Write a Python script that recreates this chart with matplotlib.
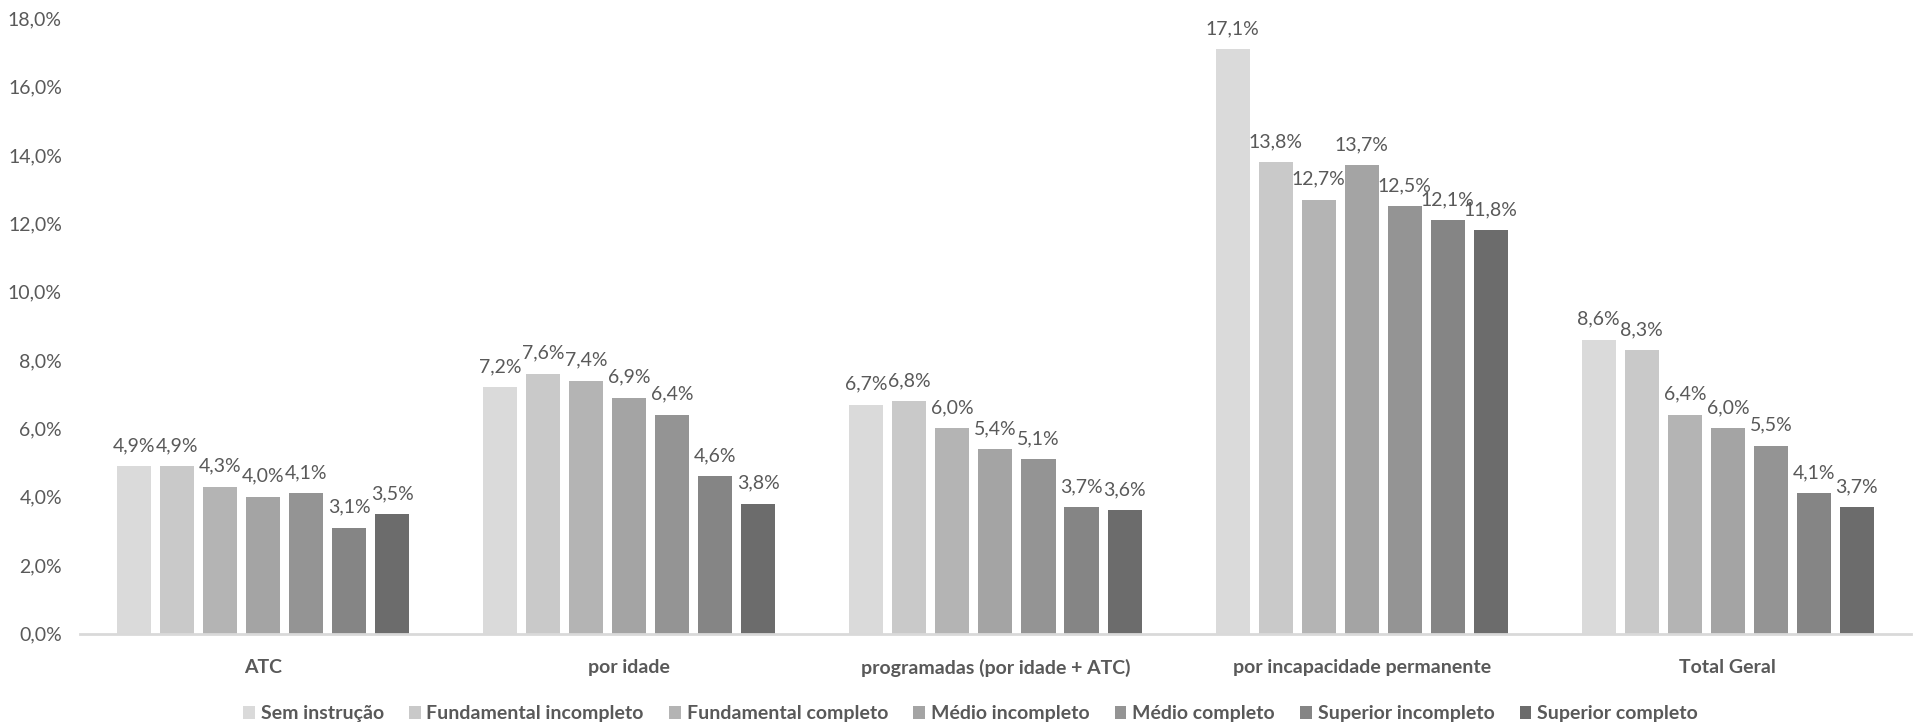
import matplotlib
matplotlib.use("Agg")
import matplotlib.pyplot as plt
import numpy as np

plt.rcParams['font.family'] = ['Lato', 'DejaVu Sans']

categories = ["ATC",
              "por idade",
              "programadas (por idade + ATC)",
              "por incapacidade permanente",
              "Total Geral"]

levels = ["Sem instrução",
          "Fundamental incompleto",
          "Fundamental completo",
          "Médio incompleto",
          "Médio completo",
          "Superior incompleto",
          "Superior completo"]

# percentage per category, one list per education level
sem_instrucao = [4.9, 7.2, 6.7, 17.1, 8.6]
fund_incompleto = [4.9, 7.6, 6.8, 13.8, 8.3]
fund_completo = [4.3, 7.4, 6.0, 12.7, 6.4]
medio_incompleto = [4.0, 6.9, 5.4, 13.7, 6.0]
medio_completo = [4.1, 6.4, 5.1, 12.5, 5.5]
sup_incompleto = [3.1, 4.6, 3.7, 12.1, 4.1]
sup_completo = [3.5, 3.8, 3.6, 11.8, 3.7]

series = [sem_instrucao, fund_incompleto, fund_completo, medio_incompleto,
          medio_completo, sup_incompleto, sup_completo]

colors = ["#dadada", "#c9c9c9", "#b4b4b4", "#a4a4a4", "#949494", "#858585", "#6c6c6c"]

text_color = "#595959"

fig = plt.figure(figsize=(19.14, 7.27), dpi=100)
ax = fig.add_axes([0.0418, 0.1286, 0.9566, 0.846])

x = np.arange(len(categories))
step = 0.1175
width = 0.093

for j, (vals, color, name) in enumerate(zip(series, colors, levels)):
    pos = x + (j - 3) * step
    ax.bar(pos, vals, width=width, color=color, label=name, zorder=2)
    for px, v in zip(pos, vals):
        ax.text(px, v + 0.35, f"{v:.1f}%".replace('.', ','), ha='center', va='bottom',
                fontsize=14, color=text_color)

ax.set_xlim(-0.5, 4.5)
ax.set_ylim(0, 18)
yt = np.arange(0, 18.1, 2)
ax.set_yticks(yt)
ax.set_yticklabels([f"{t:.1f}%".replace('.', ',') for t in yt], fontsize=14, color=text_color)
ax.set_xticks(x)
ax.set_xticklabels(categories, fontsize=14, fontweight='bold', color=text_color)
ax.tick_params(axis='both', length=0)
ax.tick_params(axis='x', pad=18)
ax.tick_params(axis='y', pad=13)

for side in ['top', 'right', 'left']:
    ax.spines[side].set_visible(False)
ax.spines['bottom'].set_color("#d9d9d9")
ax.spines['bottom'].set_linewidth(2)

leg = fig.legend(loc='center', bbox_to_anchor=(0.507, 0.018), ncol=7, frameon=False,
                 fontsize=14, handlelength=0.6, handleheight=0.6, handletextpad=0.3,
                 columnspacing=1.3)
for t in leg.get_texts():
    t.set_color(text_color)
    t.set_fontweight('bold')

fig.savefig("out.png", dpi=100)
